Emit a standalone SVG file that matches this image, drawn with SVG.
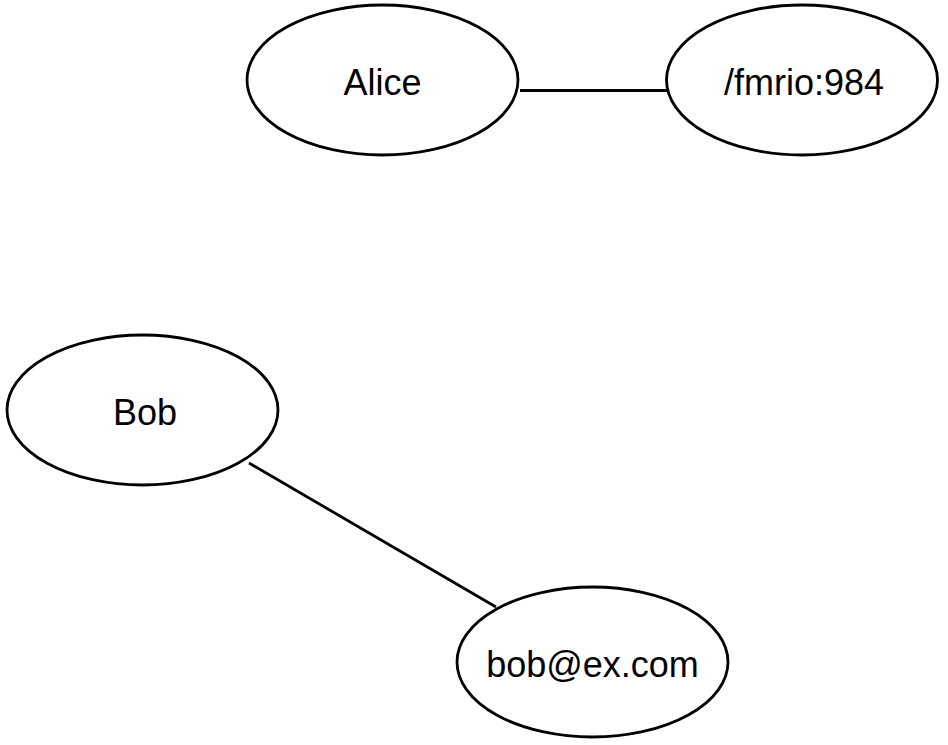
<svg xmlns="http://www.w3.org/2000/svg" width="948" height="745" viewBox="0 0 948 745">
<style>
.node ellipse{fill:#fff;stroke:#000;stroke-width:2.8}
.node text{font-family:"Liberation Sans",Arial,sans-serif;font-size:36px;fill:#000;text-anchor:middle}
.edges line{stroke:#000;stroke-width:2.8}
</style>
<rect width="948" height="745" fill="#fff"/>
<g class="edges">
<line x1="520" y1="90.5" x2="667" y2="90.5"/>
<line x1="249" y1="463" x2="496" y2="607"/>
</g>
<g id="alice" class="node"><ellipse cx="382.5" cy="80" rx="135.5" ry="75"/><text x="382.5" y="95">Alice</text></g>
<g id="fmrio" class="node"><ellipse cx="802" cy="80" rx="135.5" ry="75"/><text x="804" y="95">/fmrio:984</text></g>
<g id="bob" class="node"><ellipse cx="142.5" cy="410" rx="135.5" ry="75"/><text x="145" y="425">Bob</text></g>
<g id="bobemail" class="node"><ellipse cx="592.5" cy="662" rx="135.5" ry="75"/><text x="592.5" y="677">bob@ex.com</text></g>
</svg>
